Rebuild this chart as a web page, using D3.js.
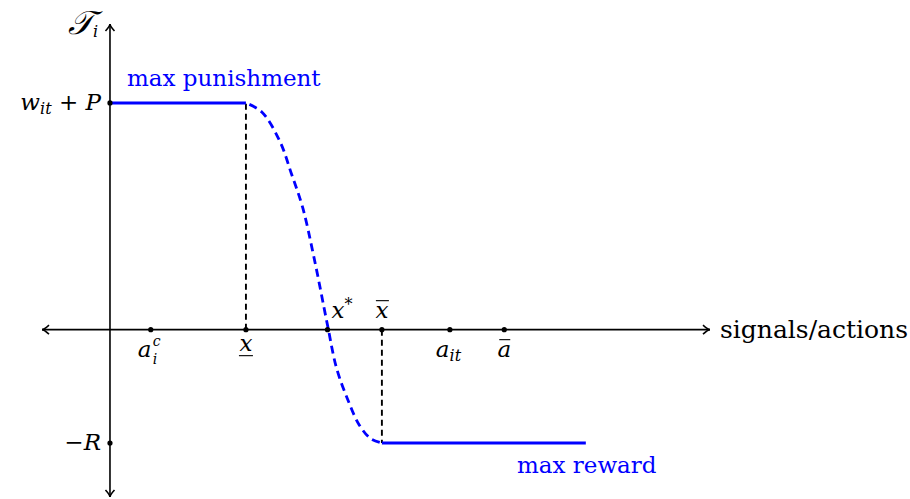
<!DOCTYPE html>
<html>
<head>
<meta charset="utf-8">
<script src="https://cdn.jsdelivr.net/npm/d3@7"></script>
<style>
  body { margin: 0; background: #fff; }
  text { font-family: "DejaVu Serif", "Liberation Serif", serif; }
  .m { font-style: italic; }
</style>
</head>
<body>
<svg width="910" height="499"></svg>
<script>
// values (axis units)
var xDomain = [-1.5, 13.24];
var yDomain = [-3.69, 6.74];
var xTickVals = [0.9, 3, 4.8, 6, 7.5, 8.7];   // a_i^c, x_, x*, xbar, a_it, abar
var yTickVals = [5, -2.5];                     // w_it + P, -R
var punishSeg = [[0, 5], [3, 5]];
var rewardSeg = [[6, -2.5], [10.5, -2.5]];
var transition = [[3, 5], [3.35, 4.8], [3.75, 4.15], [4.0, 3.45], [4.25, 2.7],
                  [4.5, 1.6], [4.8, 0.1], [5.0, -0.85], [5.25, -1.55],
                  [5.5, -2.1], [5.75, -2.4], [6, -2.5]];
var guides = [[3, 0, 5], [6, 0, -2.5]];        // x, from y, to y

var svg = d3.select('svg');
var blue = '#0000ff';

var x = d3.scaleLinear().domain(xDomain).range([42, 710]);
var y = d3.scaleLinear().domain(yDomain).range([497, 24]);

// axes
var axis = svg.append('g').attr('stroke', '#000').attr('stroke-width', 1.6).attr('fill', 'none');
axis.append('line').attr('x1', x(xDomain[0])).attr('x2', x(xDomain[1])).attr('y1', y(0)).attr('y2', y(0));
axis.append('line').attr('x1', x(0)).attr('x2', x(0)).attr('y1', y(yDomain[0])).attr('y2', y(yDomain[1]));

// open arrow tips at both ends of both axes
var tip = function(px, py, dx, dy) {
  var l = 7, w = 4.5;
  var bx = px - dx * l, by = py - dy * l;
  return 'M' + (bx - dy * w) + ',' + (by + dx * w) +
    ' Q' + (px - dx * 2) + ',' + (py - dy * 2) + ' ' + px + ',' + py +
    ' Q' + (px - dx * 2) + ',' + (py - dy * 2) + ' ' + (bx + dy * w) + ',' + (by - dx * w);
};
axis.append('path').attr('d', tip(x(xDomain[1]), y(0), 1, 0));
axis.append('path').attr('d', tip(x(xDomain[0]), y(0), -1, 0));
axis.append('path').attr('d', tip(x(0), y(yDomain[1]), 0, -1));
axis.append('path').attr('d', tip(x(0), y(yDomain[0]), 0, 1));

// dashed guides
svg.selectAll('.guide')
  .data(guides)
  .enter()
  .append('line')
  .attr('class', 'guide')
  .attr('x1', function(d) { return x(d[0]); })
  .attr('x2', function(d) { return x(d[0]); })
  .attr('y1', function(d) { return y(d[1]); })
  .attr('y2', function(d) { return y(d[2]); })
  .attr('stroke', '#000')
  .attr('stroke-width', 1.9)
  .attr('stroke-dasharray', '6,4');

var line = d3.line().x(function(d) { return x(d[0]); }).y(function(d) { return y(d[1]); });

svg.append('path')
  .attr('d', line.curve(d3.curveCatmullRom)(transition))
  .attr('fill', 'none')
  .attr('stroke', blue)
  .attr('stroke-width', 2.8)
  .attr('stroke-dasharray', '8,5')
  .attr('stroke-dashoffset', -4);

line.curve(d3.curveLinear);
[punishSeg, rewardSeg].forEach(function(seg) {
  svg.append('path')
    .attr('d', line(seg))
    .attr('fill', 'none')
    .attr('stroke', blue)
    .attr('stroke-width', 3);
});

// dots
svg.selectAll('.xdot')
  .data(xTickVals)
  .enter()
  .append('circle')
  .attr('cx', function(d) { return x(d); })
  .attr('cy', y(0))
  .attr('r', 2.6);
svg.selectAll('.ydot')
  .data(yTickVals)
  .enter()
  .append('circle')
  .attr('cx', x(0))
  .attr('cy', function(d) { return y(d); })
  .attr('r', 2.6);

// labels
var fs = 23, sfs = 16;
var txt = function(px, py, s, cls, size, anchor, color) {
  return svg.append('text')
    .attr('x', px).attr('y', py)
    .attr('class', cls || null)
    .attr('font-size', size || fs)
    .attr('text-anchor', anchor || 'start')
    .attr('fill', color || '#000')
    .text(s);
};
var bar = function(x1, x2, yy) {
  svg.append('line')
    .attr('x1', x1).attr('x2', x2)
    .attr('y1', yy).attr('y2', yy)
    .attr('stroke', '#000').attr('stroke-width', 1.1);
};

// y axis title
var ti = txt(x(0) - 42, y(yDomain[1]) + 10, '\u{1D4AF}', 'm', 33);
ti.append('tspan').attr('font-size', sfs).attr('dy', 3).text('i');

// y ticks
var t = svg.append('text').attr('x', x(0) - 9).attr('y', y(yTickVals[0]) + 7)
  .attr('font-size', fs).attr('text-anchor', 'end');
t.append('tspan').attr('class', 'm').text('w');
t.append('tspan').attr('class', 'm').attr('font-size', sfs).attr('dy', 4).text('it');
t.append('tspan').attr('dy', -4).text(' + ');
t.append('tspan').attr('class', 'm').text('P');
var r = svg.append('text').attr('x', x(0) - 9).attr('y', y(yTickVals[1]) + 7)
  .attr('font-size', fs).attr('text-anchor', 'end');
r.append('tspan').text('\u2212');
r.append('tspan').attr('class', 'm').text('R');

// x ticks
var ly = y(0) + 27;
var x0 = x(xTickVals[0]);
txt(x0 - 13, ly, 'a', 'm', fs);
txt(x0 + 2, ly - 11, 'c', 'm', 14);
txt(x0 + 2, ly + 7, 'i', 'm', 14);

txt(x(xTickVals[1]), ly - 6, 'x', 'm', fs, 'middle');
bar(x(xTickVals[1]) - 7, x(xTickVals[1]) + 7, ly - 1);

var xs = txt(x(xTickVals[2]) + 4, y(0) - 12, 'x', 'm', fs);
xs.append('tspan').attr('font-size', sfs).attr('font-style', 'normal').attr('dy', -8).text('*');

txt(x(xTickVals[3]), y(0) - 12, 'x', 'm', fs, 'middle');
bar(x(xTickVals[3]) - 6, x(xTickVals[3]) + 7, y(0) - 29);

var ait = txt(x(xTickVals[4]) - 14, ly, 'a', 'm', fs);
ait.append('tspan').attr('font-size', sfs).attr('dy', 4).text('it');

txt(x(xTickVals[5]), ly, 'a', 'm', fs, 'middle');
bar(x(xTickVals[5]) - 5, x(xTickVals[5]) + 6, ly - 17);

// axis title and annotations
txt(720, y(0) + 8, 'signals/actions', null, 25);
txt(127, 86, 'max punishment', null, fs, 'start', blue);
txt(517, 473, 'max reward', null, fs, 'start', blue);
</script>
</body>
</html>
